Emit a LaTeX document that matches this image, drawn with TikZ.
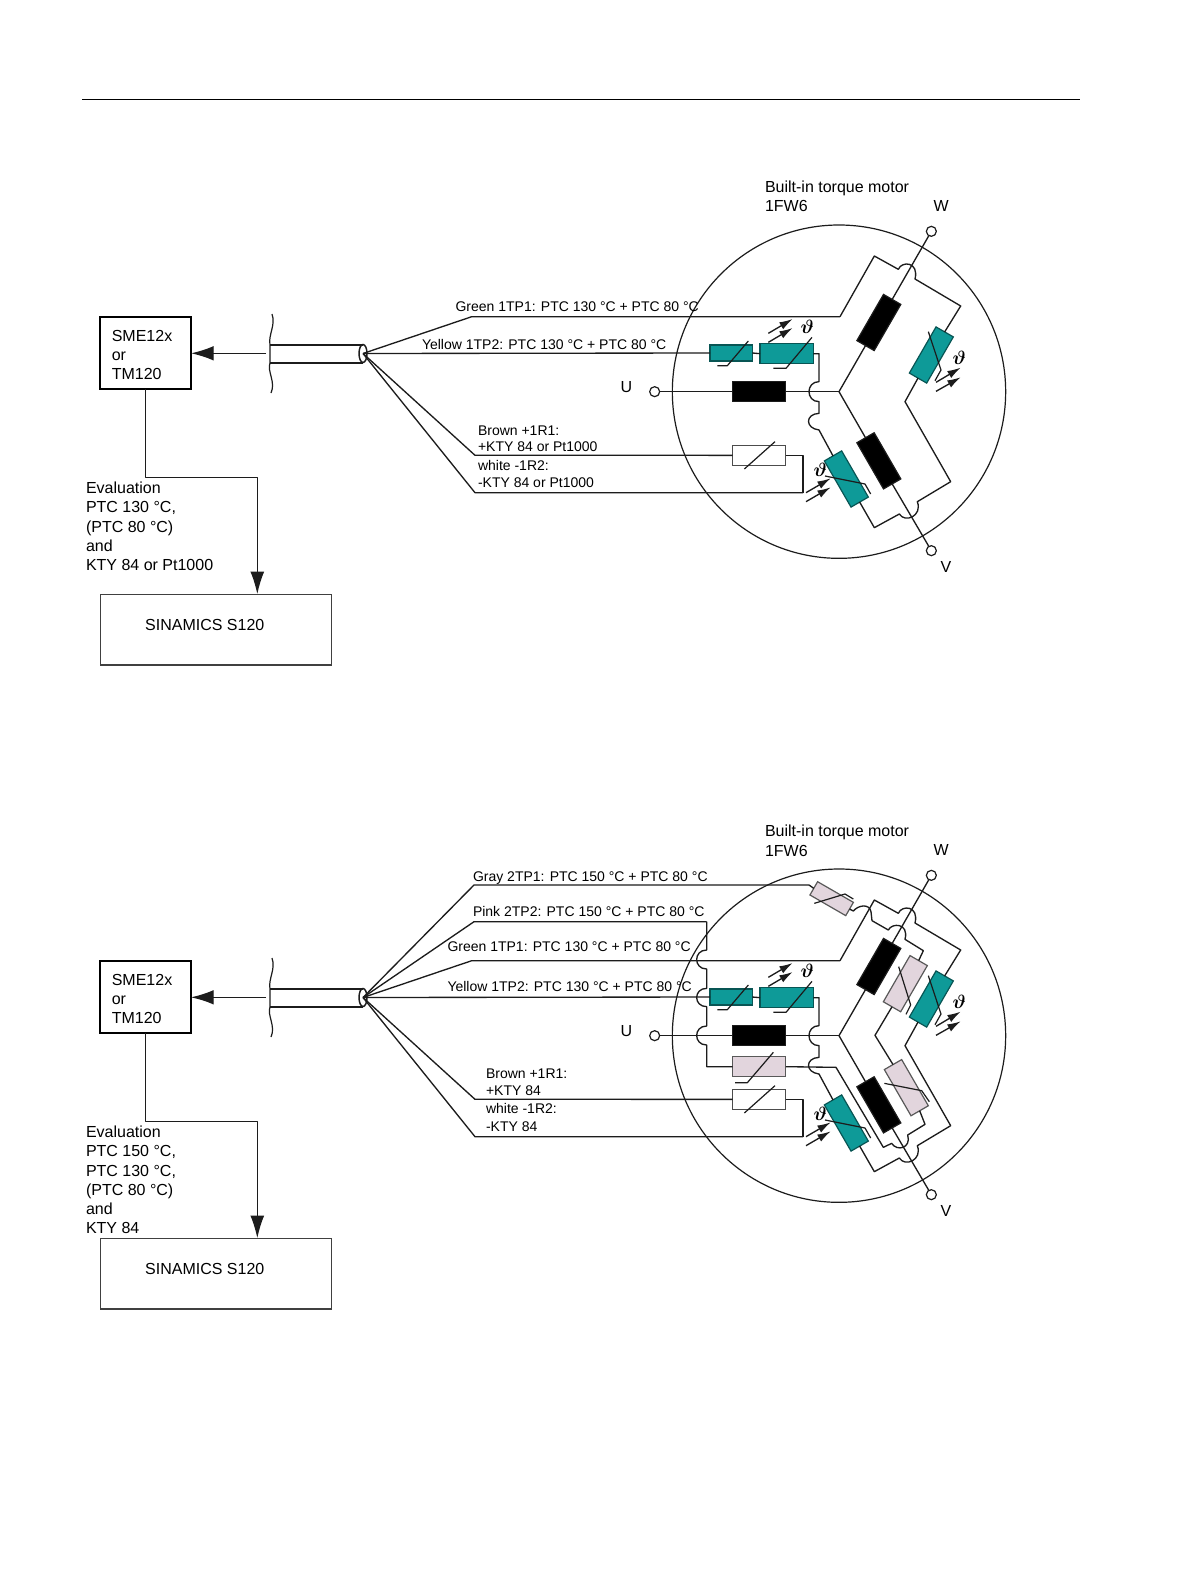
\documentclass[tikz,border=0pt]{standalone}
\usepackage{fontspec}
\setmainfont{Liberation Sans}
\usetikzlibrary{arrows.meta,shapes.geometric}
\definecolor{teal1}{HTML}{0E9A98}
\definecolor{pink1}{HTML}{E2D5DD}
\definecolor{wirec}{HTML}{1c1c1c}
\tikzset{
 every node/.style={outer sep=0pt},
 wire/.style={draw=wirec,line width=1pt,line join=round},
 thinw/.style={draw=wirec,line width=.9pt,line join=round},
 comp/.style={draw=wirec,line width=.9pt,inner sep=0pt,minimum width=40pt,minimum height=15pt},
 compsmall/.style={minimum width=31.75pt,minimum height=12pt},
 blk/.style={comp,fill=black},
 tl/.style={comp,fill=teal1,draw=teal1!55!black},
 pk/.style={comp,fill=pink1,draw=black!65},
 wh/.style={comp,fill=white,draw=black!70},
 term/.style={draw=wirec,line width=.9pt,circle,fill=white,inner sep=0pt,minimum size=7.5pt},
 rimc/.style={draw=wirec,line width=.9pt,circle,inner sep=0pt,minimum size=250pt},
 sens/.style={wire,-{Latex[length=10pt,width=6pt]}},
 lab/.style={inner sep=0pt,anchor=base west,font=\fontsize{10.5}{14}\selectfont},
 big/.style={inner sep=0pt,anchor=base west,align=left,font=\fontsize{12}{14.4}\selectfont},
 boxa/.style={draw=black,line width=1.6pt,inner sep=0pt,minimum width=68.5pt,minimum height=54pt},
 boxb/.style={draw=black!75,line width=1pt,inner sep=0pt,minimum width=173.5pt,minimum height=53pt},
 theta/.style={inner sep=0pt,font=\fontsize{14}{16}\selectfont\boldmath},
}
\newcommand{\motorcommon}{
 \node[rimc] (rim) at (597,545) {};
 \coordinate (star) at (597,545);
 \node[term] (U) at (44,545) {};
 \node[term] (W) at (874,64) {};
 \node[term] (V) at (874,1022) {};
 \node[blk] (UR) at (357.5,545) {};
 \node[blk,rotate=60] (WR) at (716.5,337.5) {};
 \node[blk,rotate=-60] (VR) at (716.5,752.5) {};
 \node[tl] (T1) at (440,431) {};
 \node[tl,compsmall] (T2) at (273.5,429) {};
 \node[tl,rotate=60] (T3) at (874,435) {};
 \node[tl,rotate=-60] (T4) at (619,807) {};
 \node[wh] (KT) at (357.5,736) {};
 \coordinate (gk) at (600,320);
 \coordinate (wk) at (489,848);
 \draw[wire] (U) -- (UR.west) (UR.east) -- (star);
 \draw[wire] (star) -- (WR.west) (WR.east) -- (W);
 \draw[wire] (star) -- (VR.west) (VR.east) -- (V);
 \draw[wire] (gk) -- (703,138) -- (775,178) .. controls (785,152) and (838,155) .. (825,207) -- (962,288) -- (T3.east);
 \draw[wire] (T3.west) -- (795,575) -- (932,815) -- (832,875) .. controls (848,918) and (795,940) .. (778,912) -- (703,953) -- (T4.east);
 \draw[wire] (T4.west) -- (537,660) .. controls (495,655) and (495,612) .. (537,610) -- (537,575) .. controls (497,575) and (497,515) .. (537,515) -- (537,431) -- (T1.east);
 \draw[wire] (T2.east) -- (T1.west);
 \draw[wire] (KT.east) -- (489,736) -- (wk);
 \draw[thinw] (516,382) -- (438,475) -- (400,475);
 \draw[thinw] (325,393) -- (262,467) -- (232,467);
 \draw[thinw] (405,695) -- (313,777);
 \draw[thinw] (865,365) -- (903,480) -- (885,512);
 \draw[thinw] (555,798) -- (675,822) -- (692,852);
 \draw[sens] (385,370) -- (458,327);
 \draw[sens] (385,397) -- (458,354);
 \draw[sens] (888,517) -- (962,473);
 \draw[sens] (888,544) -- (962,502);
 \draw[sens] (498,848) -- (572,805);
 \draw[sens] (498,875) -- (572,832);
 \node[theta] (th1) at (502,350) {$\vartheta$};
 \node[theta] (th2) at (958,442) {$\vartheta$};
 \node[theta] (th3) at (541,778) {$\vartheta$};
}
\newcommand{\leftpart}{
 \node[boxa,align=left,text width=50.4pt,font=\fontsize{12}{14.4}\selectfont] (sme) at (145.4,353.3) {\rule{0pt}{11pt}SME12x\\or\\TM120};
 \node[boxb] (s120) at (216,629.5) {};
 \node[big] (s120t) at (145.2,630) {SINAMICS S120};
 \node[draw=wirec,line width=1.1pt,ellipse,inner sep=0pt,minimum width=6pt,minimum height=13.5pt] (hub) at (363,353.5) {};
 \coordinate (cab) at (266,353.3);
 \coordinate (ca1) at (270,345);
 \coordinate (ca2) at (270,362.7);
 \coordinate (ec) at (257.3,477.3);
 \draw[wire,line width=1.5pt] (ca1) -- (ca1 -| hub.center);
 \draw[wire,line width=1.3pt] (ca2) -- (ca2 -| hub.center);
 \draw[thinw] (272,314) .. controls (276,325) and (268,335) .. (ca1) .. controls (270,352) and (270,356) .. (ca2) .. controls (267,372) and (276,382) .. (271,393);
 \draw[wire,-{Latex[length=17pt,width=11pt]}] (cab) -- (sme.east);
 \draw[wire,-{Latex[length=17pt,width=10.5pt]}] (sme.south) |- (ec) -- (ec |- s120.north);
}
\begin{document}
\begin{tikzpicture}[x=.75pt,y=-.75pt]
\useasboundingbox (0,0) rectangle (1191,1587);
\fill[white] (0,0) rectangle (1191,1587);
\coordinate (rl) at (82,99.2);
\coordinate (rr) at (1080,99.2);
\draw[line width=.9pt] (rl) -- (rr);

% ---------- top ----------
\begin{scope}[name prefix=t-]\leftpart\end{scope}
\begin{scope}[name prefix=t-,shift={(640,210)},x=.25pt,y=-.25pt]\motorcommon\end{scope}
\coordinate (tga) at (471.7,316.7);
\coordinate (tba) at (475,455.3);
\coordinate (twa) at (475,492.7);
\draw[wire] (t-hub.center) -- (tga) -- (t-gk);
\draw[wire] (t-hub.center) -- (t-T2.west);
\draw[wire] (t-hub.center) -- (tba) -- (t-KT.west);
\draw[wire] (t-hub.center) -- (twa) -- (t-wk);
\node[lab] (l1) at (455.6,311) {Green 1TP1: PTC 130 °C + PTC 80 °C};
\node[lab] (l2) at (422,349) {Yellow 1TP2: PTC 130 °C + PTC 80 °C};
\node[lab] (l3) at (478,435) {Brown +1R1:};
\node[lab] (l4) at (478,451.6) {+KTY 84 or Pt1000};
\node[lab] (l5) at (478,470) {white -1R2:};
\node[lab] (l6) at (478,487) {-KTY 84 or Pt1000};
\node[big] (l7) at (765,192.5) {Built-in torque motor};
\node[big] (l8) at (765,212) {1FW6};
\node[big] (l9) at (933.5,211.6) {W};
\node[big] (l10) at (940.6,572) {V};
\node[big] (l11) at (620.7,392) {U};
\node[big] (ev1) at (86,493.5) {Evaluation};
\node[big] (ev2) at (86,512.7) {PTC 130 °C,};
\node[big] (ev3) at (86,532) {(PTC 80 °C)};
\node[big] (ev4) at (86,551.4) {and};
\node[big] (ev5) at (86,570.8) {KTY 84 or Pt1000};

% ---------- bottom ----------
\begin{scope}[name prefix=b-,shift={(0,644)}]\leftpart\end{scope}
\begin{scope}[name prefix=b-,shift={(640,854)},x=.25pt,y=-.25pt]\motorcommon\end{scope}
\begin{scope}[name prefix=b-,shift={(640,850)},x=.25pt,y=-.25pt]
 \node[pk,minimum width=31pt,minimum height=11.5pt,rotate=-30] (GR) at (575,146) {};
 \node[pk,rotate=60] (PU) at (796,401) {};
 \node[pk,rotate=-60] (PL) at (799,713) {};
 \node[pk] (PM) at (357.5,650) {};
 \coordinate (grin) at (507,105);
 \coordinate (pkin) at (200,215);
 \draw[wire] (grin) -- (GR.west);
 \draw[wire] (GR.east) -- (640,183) .. controls (655,165) and (688,160) .. (693,185) -- (696,212) -- (745,240) .. controls (755,218) and (808,218) .. (795,268) -- (850,302) -- (PU.east);
 \draw[wire] (PU.west) -- (705,556) -- (PL.west);
 \draw[wire] (PL.east) -- (855,823) -- (803,855) .. controls (815,895) and (770,905) .. (755,880) -- (730,892) -- (588,652) -- (PM.east);
 \draw[wire] (PM.west) -- (200,650) -- (200,585) .. controls (160,585) and (160,528) .. (200,528) -- (200,470) .. controls (160,470) and (160,415) .. (200,415) -- (200,357) .. controls (160,357) and (160,300) .. (200,300) -- (pkin);
 \draw[thinw] (523,160) -- (615,132) -- (640,147);
 \draw[thinw] (776,350) -- (812,465) -- (798,493);
 \draw[thinw] (733,700) -- (845,722) -- (868,755);
 \draw[thinw] (400,607) -- (322,698) -- (285,698);
\end{scope}
\coordinate (bga) at (474,885);
\coordinate (bpa) at (474,921.7);
\coordinate (bgn) at (471.7,960.7);
\coordinate (bba) at (475,1099.3);
\coordinate (bwa) at (475,1136.7);
\draw[wire] (b-hub.center) -- (bga) -- (b-grin);
\draw[wire] (b-hub.center) -- (bpa) -- (b-pkin);
\draw[wire] (b-hub.center) -- (bgn) -- (b-gk);
\draw[wire] (b-hub.center) -- (b-T2.west);
\draw[wire] (b-hub.center) -- (bba) -- (b-KT.west);
\draw[wire] (b-hub.center) -- (bwa) -- (b-wk);
\node[lab] (m1) at (473,881) {Gray 2TP1: PTC 150 °C + PTC 80 °C};
\node[lab] (m2) at (473,916.3) {Pink 2TP2: PTC 150 °C + PTC 80 °C};
\node[lab] (m3) at (447.5,951.8) {Green 1TP1: PTC 130 °C + PTC 80 °C};
\node[lab] (m4) at (447.5,991) {Yellow 1TP2: PTC 130 °C + PTC 80 °C};
\node[lab] (m5) at (486,1078) {Brown +1R1:};
\node[lab] (m6) at (486,1095.5) {+KTY 84};
\node[lab] (m7) at (486,1113.8) {white -1R2:};
\node[lab] (m8) at (486,1131) {-KTY 84};
\node[big] (m9) at (765,836.5) {Built-in torque motor};
\node[big] (m10) at (765,856) {1FW6};
\node[big] (m11) at (933.5,855.6) {W};
\node[big] (m12) at (940.6,1216) {V};
\node[big] (m13) at (620.7,1036) {U};
\node[big] (fv1) at (86,1137.5) {Evaluation};
\node[big] (fv2) at (86,1156.7) {PTC 150 °C,};
\node[big] (fv3) at (86,1176) {PTC 130 °C,};
\node[big] (fv4) at (86,1195.4) {(PTC 80 °C)};
\node[big] (fv5) at (86,1214.6) {and};
\node[big] (fv6) at (86,1233.6) {KTY 84};
\end{tikzpicture}
\end{document}
